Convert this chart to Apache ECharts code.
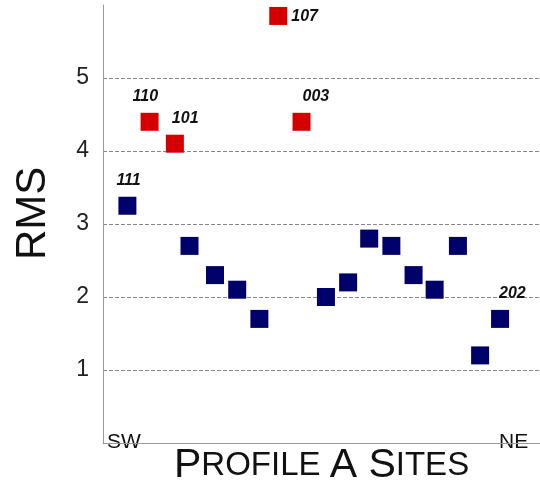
<!DOCTYPE html>
<html><head><meta charset="utf-8">
<script src="https://cdn.jsdelivr.net/npm/echarts@6/dist/echarts.min.js"></script>
<style>html,body{margin:0;background:#fff}#c{width:540px;height:486px}</style>
</head><body><div id="c"></div>
<script>
// site position along profile, RMS value, label, outlier flag
var sitePos = [0, 1, 2.14, 2.8, 3.95, 4.95, 5.95, 6.8, 7.85, 8.95, 9.95, 10.9, 11.9, 12.9, 13.85, 14.9, 15.9, 16.8];
var rms = [3.25, 4.4, 4.1, 2.7, 2.3, 2.1, 1.7, 5.85, 4.4, 2.0, 2.2, 2.8, 2.7, 2.3, 2.1, 2.7, 1.2, 1.7];
var siteLabels = ['111', '110', '101', '', '', '', '', '107', '003', '', '', '', '', '', '', '', '', '202'];
var outlier = [0, 1, 1, 0, 0, 0, 0, 1, 1, 0, 0, 0, 0, 0, 0, 0, 0, 0];
var yTicks = [1, 2, 3, 4, 5];

var labelPos = {0: [-2, -24], 1: [-8, -24], 2: [6, -24], 7: [22, 2], 8: [10, -24], 17: [8, -24]};
var data = sitePos.map(function (x, i) {
    return {
        value: [x, rms[i]],
        itemStyle: { color: outlier[i] ? '#d40000' : '#00006a', opacity: 1 },
        label: {
            show: siteLabels[i] !== '',
            formatter: siteLabels[i],
            position: labelPos[i] || 'top'
        }
    };
});

var chart = echarts.init(document.getElementById('c'));
chart.setOption({
    animation: false,
    grid: { left: 103, right: 0, top: 5, bottom: 43 },
    xAxis: {
        type: 'value', min: -1.1, max: 18.6,
        axisLine: { lineStyle: { color: '#999' } },
        axisTick: { show: false }, axisLabel: { show: false }, splitLine: { show: false }
    },
    yAxis: {
        type: 'value', min: 0, max: 6, interval: 1,
        axisLine: { show: true, onZero: false, lineStyle: { color: '#999' } },
        axisTick: { show: false },
        axisLabel: {
            fontSize: 23, color: '#222', fontFamily: 'Liberation Sans', margin: 14,
            formatter: function (v) { return yTicks.indexOf(v) >= 0 ? v : ''; }
        },
        splitLine: {
            lineStyle: { color: '#888', type: 'dashed' },
            showMinLine: false, showMaxLine: false
        }
    },
    series: [{
        type: 'scatter', symbol: 'rect', symbolSize: 18,
        data: data,
        emphasis: { disabled: true },
        label: { fontSize: 16, fontStyle: 'italic', fontWeight: 'bold', color: '#111', fontFamily: 'Liberation Sans' }
    }],
    graphic: [
        { type: 'text', x: 12, y: 260, rotation: Math.PI / 2, style: { text: 'RMS', fontSize: 42, fill: '#111', fontFamily: 'Liberation Sans' } },
        { type: 'rect', shape: { x: 104, y: 432, width: 46, height: 22 }, style: { fill: '#fff' } },
        { type: 'text', x: 107, y: 432, style: { text: 'SW', fontSize: 21, fill: '#111', fontFamily: 'Liberation Sans' } },
        { type: 'rect', shape: { x: 496, y: 432, width: 44, height: 22 }, style: { fill: '#fff' } },
        { type: 'text', x: 499, y: 432, style: { text: 'NE', fontSize: 21, fill: '#111', fontFamily: 'Liberation Sans' } },
        {
            type: 'text', x: 174, y: 445, style: {
                text: '{b|P}{s|ROFILE }{b|A S}{s|ITES}',
                rich: {
                    b: { fontSize: 41, fill: '#111', fontFamily: 'Liberation Sans' },
                    s: { fontSize: 33, fill: '#111', fontFamily: 'Liberation Sans' }
                }
            }
        }
    ]
});
</script></body></html>
